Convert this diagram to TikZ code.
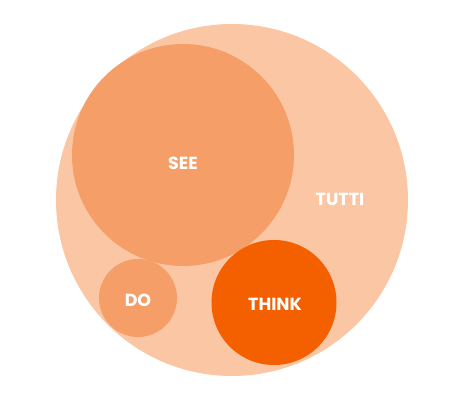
\documentclass[tikz,border=0pt]{standalone}
\usepackage{fontspec}
\setmainfont{Poppins}[BoldFont={Poppins Bold}]
\definecolor{tutticol}{HTML}{FAC6A3}
\definecolor{seecol}{HTML}{F69E68}
\definecolor{thinkcol}{HTML}{F45F00}
\tikzset{
  blob/.style={circle, inner sep=0pt, draw=none},
  lbl/.style={text=white, font=\bfseries\fontsize{17.5}{19}\selectfont, inner sep=0pt}
}
\begin{document}
\begin{tikzpicture}[x=1pt,y=1pt]
\useasboundingbox (0,0) rectangle (460,400);
\node[blob, fill=tutticol, minimum size=352pt] (tutti) at (232,200) {};
\node[blob, fill=seecol, minimum size=222pt] (see) at (183,245) {};
\node[blob, fill=seecol, minimum size=78pt] (do) at (138,102) {};
\node[blob, fill=thinkcol, minimum size=125pt] (think) at (274,97.5) {};
\node[lbl] (seel) at (183,237) {SEE};
\node[lbl] (tuttil) at (340,201) {TUTTI};
\node[lbl] (dol) at (138,100) {DO};
\node[lbl] (thinkl) at (275,96) {THINK};
\end{tikzpicture}
\end{document}
